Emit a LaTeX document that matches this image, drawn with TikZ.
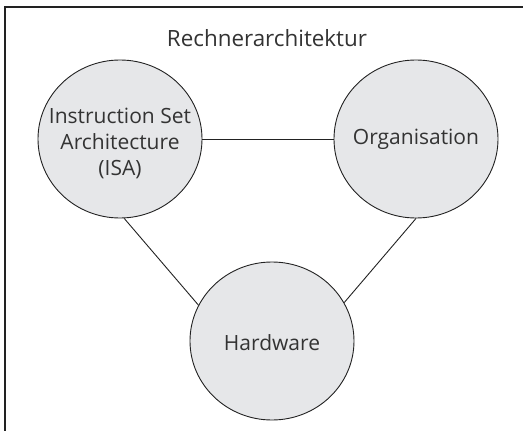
\documentclass[tikz,border=0pt]{standalone}
\usepackage{fontspec}
\setmainfont{Open Sans}
\usepackage{tikz}
\usetikzlibrary{shapes.geometric}
\definecolor{bubblegray}{RGB}{230,231,233}
\definecolor{inkgray}{RGB}{34,34,34}
\definecolor{textgray}{RGB}{51,51,51}

\begin{document}
\begin{tikzpicture}[x=1pt,y=-1pt,
    bubble/.style={ellipse,draw=inkgray,fill=bubblegray,line width=0.9pt,
      minimum width=164pt,minimum height=158pt,inner sep=0pt},
    label text/.style={text=textgray,align=center,
      font=\fontsize{21}{26}\selectfont},
    link/.style={draw=inkgray,line width=0.9pt}]
      \useasboundingbox (0,0) rectangle (523,431);
      \draw [inkgray,line width=1.6pt] (5,7) rectangle (560,470);
      \node [label text,font=\fontsize{22.4}{27}\selectfont] (title) at (267,38) {Rechnerarchitektur};
      \node [bubble] (isa) at (120,139) {};
      \node [bubble] (org) at (416,139) {};
      \node [bubble] (hw) at (272,341) {};
      \node [label text] (isatext) at (120,143) {Instruction Set\\Architecture\\(ISA)};
      \node [label text] (orgtext) at (416,139) {Organisation};
      \node [label text] (hwtext) at (272,343) {Hardware};
      \draw [link] (isa) -- (org);
      \draw [link] (isa.-87) -- (hw.154);
      \draw [link] (org.-90) -- (hw.28);
\end{tikzpicture}
\end{document}
